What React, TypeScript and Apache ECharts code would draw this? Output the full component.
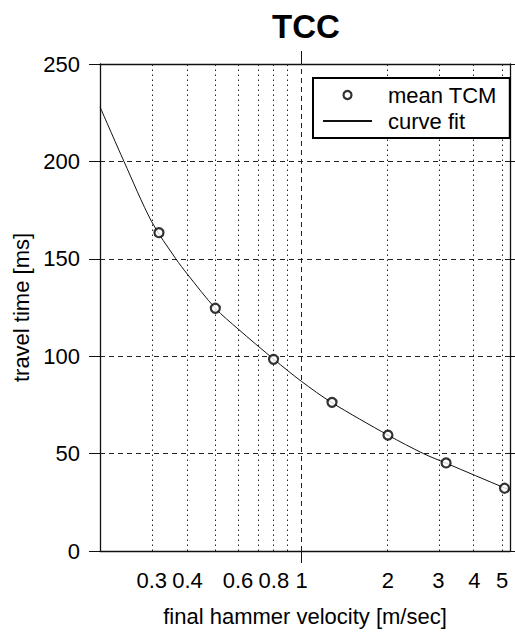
import React, { useEffect, useRef } from "react";
import * as echarts from "echarts";

const titleText = "TCC";
const xName = "final hammer velocity [m/sec]";
const yName = "travel time [ms]";
const xRange = [0.198, 5.33];
const yRange = [0, 250];
const yStep = 50;
const xLabelTicks = [0.3, 0.4, 0.6, 0.8, 1, 2, 3, 4, 5];
const xMinorGrid = [0.3, 0.4, 0.5, 0.6, 0.7, 0.8, 0.9, 2, 3, 4, 5];
const xMajorGrid = [1];
const meanName = "mean TCM";
const fitName = "curve fit";
const meanX = [0.318, 0.5, 0.798, 1.276, 2.0, 3.19, 5.1];
const meanY = [163.4, 124.6, 98.4, 76.3, 59.5, 45.2, 32.2];
const fitX = [0.198, 0.24, 0.3, 0.364, 0.4, 0.5, 0.6, 0.8, 1, 1.27, 2, 2.66, 3.2, 5.1, 5.33];
const fitY = [228, 200, 169, 150, 142, 124.6, 114, 98.4, 87, 76.3, 59.5, 50, 45, 32.4, 31.3];

const FONT = "'Liberation Sans', Arial, Helvetica, sans-serif";
const L = (v: number) => Math.log10(v);
const fmt = (v: number) => String(Number(Math.pow(10, v).toPrecision(2)));

export default function App() {
  const ref = useRef<HTMLDivElement>(null);
  useEffect(() => {
    document.body.style.margin = "0";
    if (!ref.current) return;
    const chart = echarts.init(ref.current, null, { renderer: "svg" });
    const axisLine = { show: true, onZero: false, lineStyle: { color: "#111", width: 1.3 } };
    chart.setOption({
      animation: false,
      backgroundColor: "#fff",
      title: {
        text: titleText,
        left: 272,
        top: 10,
        padding: 0,
        textStyle: { fontSize: 33, fontWeight: "bold", color: "#000", fontFamily: FONT },
      },
      legend: {
        orient: "vertical",
        left: 313,
        top: 78,
        padding: [6, 13, 6, 9],
        borderColor: "#000",
        borderWidth: 2,
        backgroundColor: "#fff",
        itemWidth: 49,
        itemHeight: 8,
        itemGap: 4,
        textStyle: { fontSize: 22, color: "#000", fontFamily: FONT, lineHeight: 22, padding: [0, 0, 0, 11] },
        data: [
          { name: meanName, itemStyle: { color: "#fff", borderColor: "#000", borderWidth: 2.2 } },
          { name: fitName, itemStyle: { opacity: 0 } },
        ],
      },
      grid: { left: 100, top: 64, right: 5, bottom: 84 },
      xAxis: [
        {
          type: "value",
          position: "bottom",
          min: L(xRange[0]),
          max: L(xRange[1]),
          axisLine,
          axisTick: { show: true, customValues: xMajorGrid.map(L), length: 12, lineStyle: { color: "#111" } },
          axisLabel: {
            customValues: xLabelTicks.map(L),
            formatter: fmt,
            margin: 18,
            fontSize: 22,
            color: "#000",
            fontFamily: FONT,
          },
          splitLine: { show: false },
          name: xName,
          nameLocation: "middle",
          nameGap: 54,
          nameTextStyle: { fontSize: 22, color: "#000", fontFamily: FONT },
        },
        {
          type: "value",
          position: "top",
          min: L(xRange[0]),
          max: L(xRange[1]),
          axisLine,
          axisTick: { show: true, customValues: xMajorGrid.map(L), length: 13, lineStyle: { color: "#111" } },
          axisLabel: { show: false },
          splitLine: { show: false },
        },
      ],
      yAxis: [
        {
          type: "value",
          min: yRange[0],
          max: yRange[1],
          interval: yStep,
          axisLine,
          axisTick: { show: true, length: 11, lineStyle: { color: "#111" } },
          axisLabel: { margin: 20, fontSize: 22, color: "#000", fontFamily: FONT },
          splitLine: { show: true, lineStyle: { color: "#222", type: [5, 4], width: 1 } },
          name: yName,
          nameLocation: "middle",
          nameGap: 56,
          nameTextStyle: { fontSize: 22, color: "#000", fontFamily: FONT },
        },
        {
          type: "value",
          position: "right",
          min: yRange[0],
          max: yRange[1],
          interval: yStep,
          axisLine,
          axisTick: { show: true, length: 5, lineStyle: { color: "#111" } },
          axisLabel: { show: false },
          splitLine: { show: false },
        },
      ],
      series: [
        {
          name: meanName,
          type: "scatter",
          xAxisIndex: 0,
          yAxisIndex: 0,
          symbol: "circle",
          symbolSize: 9,
          z: 5,
          itemStyle: { color: "#fff", borderColor: "#000", borderWidth: 2.2 },
          data: meanX.map((x, i) => [L(x), meanY[i]]),
        },
        {
          name: fitName,
          type: "line",
          xAxisIndex: 0,
          yAxisIndex: 0,
          symbol: "none",
          smooth: 0.3,
          z: 3,
          itemStyle: { color: "#111" },
          lineStyle: { color: "#111", width: 1 },
          data: fitX.map((x, i) => [L(x), fitY[i]]),
          markLine: {
            silent: true,
            symbol: ["none", "none"],
            label: { show: false },
            z: 1,
            data: [
              ...xMinorGrid.map((v) => ({ xAxis: L(v), lineStyle: { type: [1.5, 3.5], color: "#222", width: 1 } })),
              ...xMajorGrid.map((v) => ({ xAxis: L(v), lineStyle: { type: [5, 4], color: "#222", width: 1 } })),
            ],
          },
        },
      ],
    });
    return () => chart.dispose();
  }, []);
  return <div ref={ref} style={{ width: 515, height: 635 }} />;
}
